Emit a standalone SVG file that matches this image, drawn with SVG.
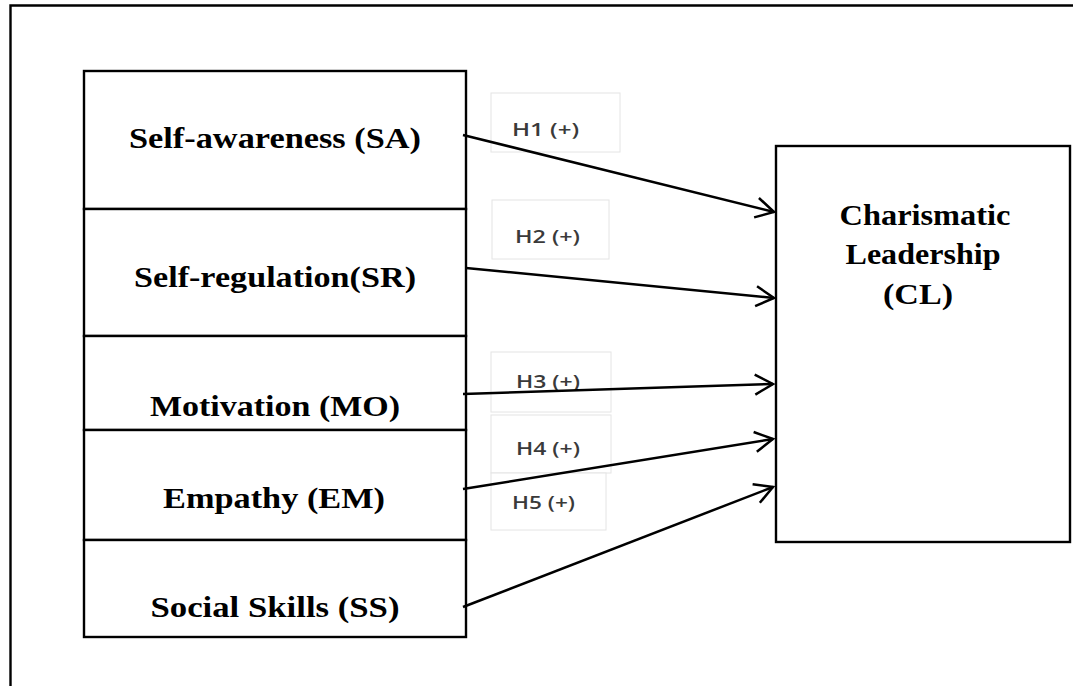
<svg xmlns="http://www.w3.org/2000/svg" width="1073" height="686" viewBox="0 0 1073 686">
<style>
.box{fill:#fff;stroke:#000;stroke-width:2.4}
.lbl{font-family:"Liberation Serif","Times New Roman",serif;font-weight:bold;font-size:30px;fill:#000;text-anchor:middle}
.hb{fill:#fff;stroke:#e4e4e4;stroke-width:1}
.ht{font-family:"Open Sans","Liberation Sans",sans-serif;font-size:18px;font-weight:600;fill:#3a3a3a}
.arr{stroke:#000;stroke-width:2.5;fill:none}
</style>
<defs>
<marker id="ah" markerUnits="userSpaceOnUse" markerWidth="30" markerHeight="30" viewBox="-22 -15 26 30" refX="0" refY="0" orient="auto">
<path d="M-18,-10 L0,0 L-18,10" fill="none" stroke="#000" stroke-width="2.5"/>
</marker>
</defs>
<rect width="1073" height="686" fill="#fff"/>
<g id="frame">
<path d="M10.5,686 V5.5 H1073" fill="none" stroke="#000" stroke-width="2.4"/>
</g>
<g id="hlabels">
<g id="h1"><rect class="hb" x="491" y="93" width="129" height="59"/><text class="ht" x="512" y="136" textLength="67" lengthAdjust="spacingAndGlyphs">H1 (+)</text></g>
<g id="h2"><rect class="hb" x="492" y="200" width="117" height="59"/><text class="ht" x="515" y="243" textLength="65" lengthAdjust="spacingAndGlyphs">H2 (+)</text></g>
<g id="h3"><rect class="hb" x="491" y="352" width="120" height="60"/><text class="ht" x="516" y="388" textLength="64" lengthAdjust="spacingAndGlyphs">H3 (+)</text></g>
<g id="h4"><rect class="hb" x="491" y="415" width="120" height="58"/><text class="ht" x="516" y="455" textLength="64" lengthAdjust="spacingAndGlyphs">H4 (+)</text></g>
<g id="h5"><rect class="hb" x="491" y="473" width="115" height="57"/><text class="ht" x="512" y="509" textLength="63" lengthAdjust="spacingAndGlyphs">H5 (+)</text></g>
</g>
<g id="SA"><rect class="box" x="84" y="71" width="382" height="138"/><text class="lbl" x="275" y="148" textLength="292" lengthAdjust="spacingAndGlyphs">Self-awareness (SA)</text></g>
<g id="SR"><rect class="box" x="84" y="209" width="382" height="127"/><text class="lbl" x="275" y="287" textLength="282" lengthAdjust="spacingAndGlyphs">Self-regulation(SR)</text></g>
<g id="MO"><rect class="box" x="84" y="336" width="382" height="94"/><text class="lbl" x="275" y="416" textLength="250" lengthAdjust="spacingAndGlyphs">Motivation (MO)</text></g>
<g id="EM"><rect class="box" x="84" y="430" width="382" height="110"/><text class="lbl" x="274" y="508" textLength="222" lengthAdjust="spacingAndGlyphs">Empathy (EM)</text></g>
<g id="SS"><rect class="box" x="84" y="540" width="382" height="97"/><text class="lbl" x="275" y="617" textLength="249" lengthAdjust="spacingAndGlyphs">Social Skills (SS)</text></g>
<g id="CL"><rect class="box" x="776" y="146" width="294" height="396"/>
<text class="lbl" x="925" y="225" textLength="171" lengthAdjust="spacingAndGlyphs">Charismatic</text>
<text class="lbl" x="923" y="264" textLength="155" lengthAdjust="spacingAndGlyphs">Leadership</text>
<text class="lbl" x="918" y="304" textLength="70" lengthAdjust="spacingAndGlyphs">(CL)</text></g>
<g id="connectors">
<line class="arr" x1="463" y1="135" x2="774" y2="212" marker-end="url(#ah)"/>
<line class="arr" x1="466" y1="268" x2="774" y2="298" marker-end="url(#ah)"/>
<line class="arr" x1="463" y1="394" x2="773" y2="384" marker-end="url(#ah)"/>
<line class="arr" x1="463" y1="489" x2="773" y2="439" marker-end="url(#ah)"/>
<line class="arr" x1="463" y1="607" x2="773" y2="487" marker-end="url(#ah)"/>
</g>
</svg>
